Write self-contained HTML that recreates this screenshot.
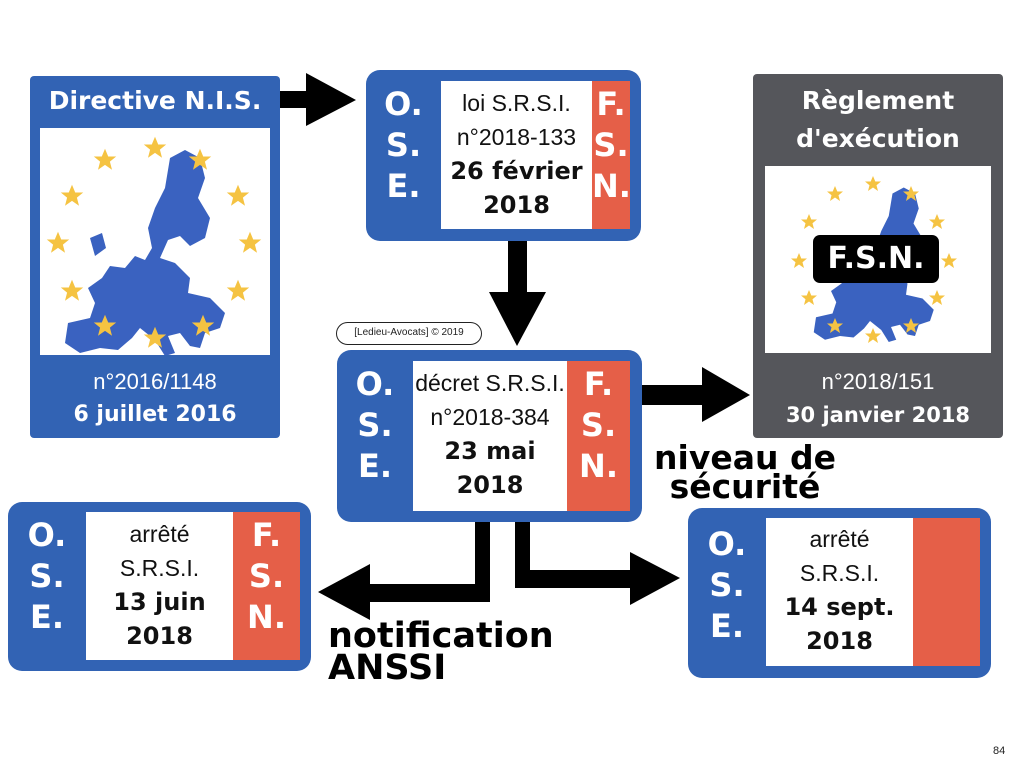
<!DOCTYPE html>
<html><head><meta charset="utf-8"><style>
*{margin:0;padding:0;box-sizing:border-box}
body{width:1024px;height:768px;background:#fff;position:relative;overflow:hidden;font-family:"Liberation Sans","DejaVu Sans",sans-serif}
.a{position:absolute}
.blue{background:#3263b4}
.grey{background:#55565b}
.red{background:#e55f48}
.w{background:#fff}
.let{position:absolute;color:#fff;font-family:"DejaVu Sans",sans-serif;font-weight:bold;font-size:32px;text-align:center;line-height:41px}
.txt{position:absolute;text-align:center;color:#111;font-size:23px;line-height:34px}
.b{font-weight:bold;font-family:"DejaVu Sans",sans-serif;font-size:24px}
.hd{color:#fff;font-weight:bold;font-family:"DejaVu Sans",sans-serif;text-align:center}
</style></head><body>

<svg class="a" style="left:0;top:0" width="1024" height="768">
<defs>
<polygon id="st" points="0,-8 2.3,-2.5 8,-2.5 3.5,1.2 5,7 0,3.5 -5,7 -3.5,1.2 -8,-2.5 -2.3,-2.5"/>
<path id="eu" d="M130,30 L145,22 L160,30 L165,50 L158,70 L170,90 L165,110 L150,118 L140,108 L128,112 L120,130 L135,135 L150,150 L148,165 L170,170 L185,185 L180,200 L165,205 L160,220 L150,218 L140,205 L128,208 L135,225 L125,228 L115,212 L100,200 L92,210 L78,222 L60,220 L40,225 L25,215 L28,195 L50,190 L55,175 L48,160 L62,150 L70,138 L85,140 L95,128 L105,132 L112,120 L108,100 L115,80 L125,60 Z M50,110 L62,105 L66,120 L55,128 Z"/>
</defs>
<polygon points="280,91 306,91 306,73 356,100 306,126 306,108 280,108" fill="#000"/>
<polygon points="508,241 527,241 527,292 546,292 517,346 489,292 508,292" fill="#000"/>
<polygon points="642,385 702,385 702,367 750,395 702,422 702,405 642,405" fill="#000"/>
<polygon points="475,522 490,522 490,602 370,602 370,620 318,592 370,564 370,584 475,584" fill="#000"/>
<polygon points="515,522 530,522 530,570 630,570 630,552 680,578 630,605 630,588 515,588" fill="#000"/>
</svg>

<!-- Directive NIS -->
<div class="a blue" style="left:30px;top:76px;width:250px;height:362px;border-radius:4px"></div>
<div class="a w" style="left:40px;top:128px;width:230px;height:227px"></div>
<div class="a hd" style="left:30px;top:80px;width:250px;font-size:25px;line-height:42px">Directive N.I.S.</div>
<div class="a hd" style="left:30px;top:365px;width:250px;font-size:22px;line-height:34px;font-weight:normal;font-family:'Liberation Sans',sans-serif">n°2016/1148</div>
<div class="a hd" style="left:30px;top:398px;width:250px;font-size:22px;line-height:34px">6 juillet 2016</div>
<svg class="a" style="left:40px;top:128px" width="230" height="227" viewBox="0 0 230 227">
<use href="#eu" fill="#3a62c0"/>
<g fill="#f5c342">
<use href="#st" transform="translate(115,20) scale(1.4)"/><use href="#st" transform="translate(65,32) scale(1.4)"/><use href="#st" transform="translate(160,32) scale(1.4)"/>
<use href="#st" transform="translate(32,68) scale(1.4)"/><use href="#st" transform="translate(198,68) scale(1.4)"/>
<use href="#st" transform="translate(18,115) scale(1.4)"/><use href="#st" transform="translate(210,115) scale(1.4)"/>
<use href="#st" transform="translate(32,163) scale(1.4)"/><use href="#st" transform="translate(198,163) scale(1.4)"/>
<use href="#st" transform="translate(65,198) scale(1.4)"/><use href="#st" transform="translate(163,198) scale(1.4)"/><use href="#st" transform="translate(115,210) scale(1.4)"/>
</g>
</svg>

<!-- Reglement -->
<div class="a grey" style="left:753px;top:74px;width:250px;height:364px;border-radius:4px"></div>
<div class="a w" style="left:765px;top:166px;width:226px;height:187px"></div>
<div class="a hd" style="left:753px;top:82px;width:250px;font-size:25px;line-height:38px">Règlement<br>d'exécution</div>
<svg class="a" style="left:765px;top:166px" width="226" height="187" viewBox="0 0 226 187">
<g transform="translate(30,5) scale(0.75)"><use href="#eu" fill="#3a62c0"/></g>
<g fill="#f5c342">
<use href="#st" transform="translate(108,18)"/><use href="#st" transform="translate(70,28)"/><use href="#st" transform="translate(146,28)"/>
<use href="#st" transform="translate(44,56)"/><use href="#st" transform="translate(172,56)"/>
<use href="#st" transform="translate(34,95)"/><use href="#st" transform="translate(184,95)"/>
<use href="#st" transform="translate(44,132)"/><use href="#st" transform="translate(172,132)"/>
<use href="#st" transform="translate(70,160)"/><use href="#st" transform="translate(146,160)"/><use href="#st" transform="translate(108,170)"/>
</g>
</svg>
<div class="a hd" style="left:813px;top:235px;width:126px;height:48px;background:#000;border-radius:7px;font-size:30px;line-height:48px">F.S.N.</div>
<div class="a hd" style="left:753px;top:365px;width:250px;font-size:22px;line-height:34px;font-weight:normal;font-family:'Liberation Sans',sans-serif">n°2018/151</div>
<div class="a hd" style="left:753px;top:398px;width:250px;font-size:21px;line-height:34px">30 janvier 2018</div>

<!-- Loi -->
<div class="a blue" style="left:366px;top:70px;width:275px;height:171px;border-radius:14px"></div>
<div class="a w" style="left:441px;top:81px;width:151px;height:148px"></div>
<div class="a red" style="left:592px;top:81px;width:38px;height:148px"></div>
<div class="let" style="left:366px;top:84px;width:75px">O.<br>S.<br>E.</div>
<div class="let" style="left:592px;top:84px;width:38px">F.<br>S.<br>N.</div>
<div class="txt" style="left:441px;top:86px;width:151px">loi S.R.S.I.<br>n°2018-133<br><span class="b">26 février<br>2018</span></div>

<div class="a" style="left:336px;top:322px;width:146px;height:23px;border:1.5px solid #222;border-radius:12px;font-size:10px;line-height:20px;text-align:center;color:#222">[Ledieu-Avocats] © 2019</div>

<!-- Decret -->
<div class="a blue" style="left:337px;top:350px;width:305px;height:172px;border-radius:14px"></div>
<div class="a w" style="left:413px;top:361px;width:154px;height:150px"></div>
<div class="a red" style="left:567px;top:361px;width:63px;height:150px"></div>
<div class="let" style="left:337px;top:364px;width:76px">O.<br>S.<br>E.</div>
<div class="let" style="left:567px;top:364px;width:63px">F.<br>S.<br>N.</div>
<div class="txt" style="left:413px;top:366px;width:154px">décret S.R.S.I.<br>n°2018-384<br><span class="b">23 mai<br>2018</span></div>

<div class="a" style="left:645px;top:443px;width:200px;text-align:center;font-family:'DejaVu Sans',sans-serif;font-weight:bold;font-size:33px;line-height:29px;color:#000">niveau de<br>sécurité</div>

<!-- arrete 13 juin -->
<div class="a blue" style="left:8px;top:502px;width:303px;height:169px;border-radius:14px"></div>
<div class="a w" style="left:86px;top:512px;width:147px;height:148px"></div>
<div class="a red" style="left:233px;top:512px;width:67px;height:148px"></div>
<div class="let" style="left:8px;top:515px;width:78px">O.<br>S.<br>E.</div>
<div class="let" style="left:233px;top:515px;width:67px">F.<br>S.<br>N.</div>
<div class="txt" style="left:86px;top:517px;width:147px">arrêté<br>S.R.S.I.<br><span class="b">13 juin<br>2018</span></div>

<div class="a" style="left:328px;top:620px;font-family:'DejaVu Sans',sans-serif;font-weight:bold;font-size:35px;line-height:32px;color:#000">notification<br>ANSSI</div>

<!-- arrete 14 sept -->
<div class="a blue" style="left:688px;top:508px;width:303px;height:170px;border-radius:14px"></div>
<div class="a w" style="left:766px;top:518px;width:147px;height:148px"></div>
<div class="a red" style="left:913px;top:518px;width:67px;height:148px"></div>
<div class="let" style="left:688px;top:524px;width:78px">O.<br>S.<br>E.</div>
<div class="txt" style="left:766px;top:522px;width:147px">arrêté<br>S.R.S.I.<br><span class="b">14 sept.<br>2018</span></div>

<div class="a" style="left:993px;top:745px;font-size:11px;color:#222">84</div>
</body></html>
